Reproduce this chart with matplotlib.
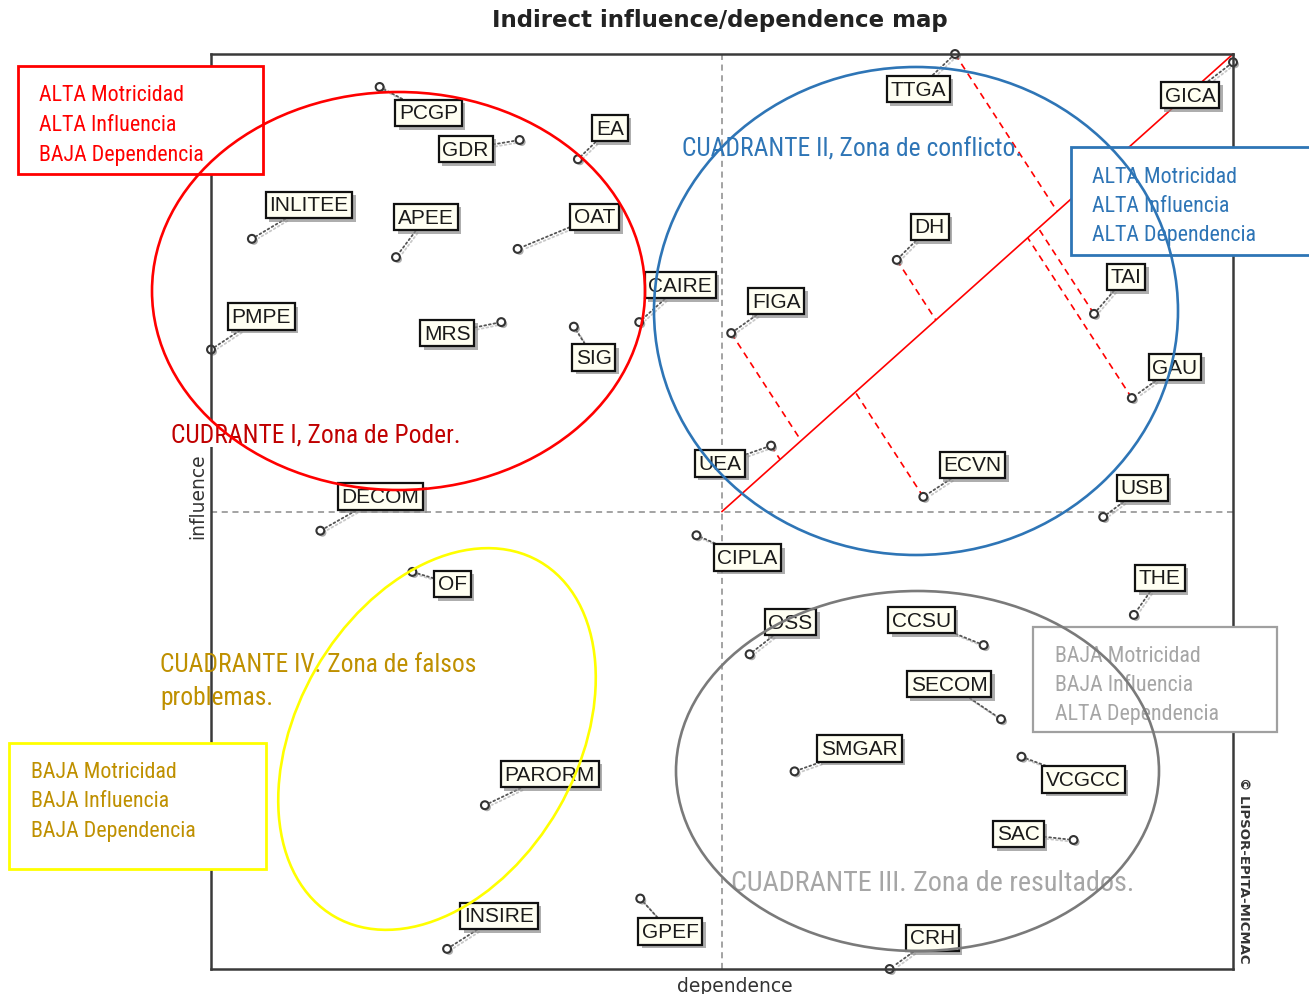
import matplotlib
matplotlib.use('Agg')
import matplotlib.pyplot as plt
from matplotlib.patches import Ellipse, Rectangle
import matplotlib.patheffects as pe
from matplotlib import font_manager as fm
import numpy as np

# ---------------- data ----------------
variables = ['PCGP', 'GDR', 'EA', 'INLITEE', 'APEE', 'OAT', 'CAIRE', 'PMPE', 'MRS', 'SIG',
             'DECOM', 'OF', 'PARORM', 'INSIRE', 'GPEF', 'CIPLA',
             'TTGA', 'GICA', 'DH', 'FIGA', 'TAI', 'GAU', 'UEA', 'ECVN', 'USB',
             'THE', 'OSS', 'CCSU', 'SECOM', 'SMGAR', 'VCGCC', 'SAC', 'CRH']
dependence = [16.5, 30.2, 35.9, 4.0, 18.1, 30.0, 41.9, 0.0, 28.4, 35.5,
              10.7, 19.7, 26.8, 23.1, 42.0, 47.5,
              72.8, 100.0, 67.1, 50.9, 86.4, 90.1, 54.8, 69.7, 87.3,
              90.3, 52.7, 75.6, 77.3, 57.1, 79.3, 84.4, 66.4]
influence = [96.4, 90.6, 88.5, 79.8, 77.8, 78.7, 70.7, 67.7, 70.7, 70.2,
             47.9, 43.4, 17.9, 2.2, 7.7, 47.4,
             100.0, 99.1, 77.5, 69.5, 71.6, 62.4, 57.2, 51.6, 49.4,
             38.7, 34.4, 35.4, 27.3, 21.6, 23.2, 14.1, 0.0]
perp_vars = ['TTGA', 'DH', 'FIGA', 'UEA', 'ECVN', 'TAI', 'GAU']

# label placement (pixels, right / up from the point)
label_offsets = {
    'PCGP': (49, -26), 'GDR': (-54, -9), 'EA': (32, 31), 'INLITEE': (57, 34),
    'APEE': (30, 40), 'OAT': (77, 32), 'CAIRE': (41, 37), 'PMPE': (50, 33),
    'MRS': (-54, -11), 'SIG': (20, -31), 'DECOM': (60, 34), 'OF': (40, -12),
    'PARORM': (65, 31), 'INSIRE': (52, 33), 'GPEF': (30, -33), 'CIPLA': (51, -22),
    'TTGA': (-37, -35), 'GICA': (-43, -33), 'DH': (33, 33), 'FIGA': (45, 32),
    'TAI': (32, 37), 'GAU': (43, 31), 'UEA': (-51, -18), 'ECVN': (49, 32),
    'USB': (39, 29), 'THE': (26, 37), 'OSS': (41, 32), 'CCSU': (-62, 25),
    'SECOM': (-52, 35), 'SMGAR': (65, 23), 'VCGCC': (62, -23), 'SAC': (-55, 6),
    'CRH': (43, 31),
}

# ---------------- fonts ----------------
names = {f.name for f in fm.fontManager.ttflist}
NARROW = 'Liberation Sans'
for cand in ['Liberation Sans Narrow', 'Arial Narrow', 'Roboto Condensed',
             'Noto Sans Condensed', 'Open Sans Condensed', 'DejaVu Sans Condensed']:
    if cand in names:
        NARROW = cand
        break

W, H = 1309, 995
fig = plt.figure(figsize=(W / 100, H / 100), dpi=100)
fig.patch.set_facecolor('white')
renderer = fig.canvas.get_renderer()


def fit_size(text, family, target_px, weight='normal'):
    t = fig.text(0, 0, text, fontsize=10, family=family, fontweight=weight)
    w = t.get_window_extent(renderer=renderer).width
    t.remove()
    return 10 * target_px / w


ax = fig.add_axes([211 / W, (H - 970) / H, 1022 / W, 915 / H])
ax.set_xlim(0, 100)
ax.set_ylim(0, 100)
ax.set_xticks([])
ax.set_yticks([])
for s in ax.spines.values():
    s.set_color('#3a3a3a')
    s.set_linewidth(1.8)
    s.set_zorder(6)
ax.axvline(50, color='#8a8a8a', ls=(0, (4, 3)), lw=1.1, zorder=1)
ax.axhline(50, color='#8a8a8a', ls=(0, (4, 3)), lw=1.1, zorder=1)

ax.set_xlabel('dependence', fontsize=13.5, color='#333333', labelpad=2,
              family='DejaVu Sans')
ax.set_ylabel('influence', fontsize=13.5, color='#333333', labelpad=4,
              family='DejaVu Sans')
ax.xaxis.set_label_coords(0.5127, -0.0075)
ax.yaxis.set_label_coords(-0.004, 0.518)

# diagonal and perpendicular projections
ax.plot([50, 100], [50, 100], color='#ff0000', lw=1.2, zorder=2, clip_on=False)
A = ax.transData.transform((50, 50))
B = ax.transData.transform((100, 100))
u = np.array([0.545, -0.839])
inv = ax.transData.inverted()
for name in perp_vars:
    i = variables.index(name)
    P = ax.transData.transform((dependence[i], influence[i]))
    M = np.column_stack([u, -(B - A)])
    t, s_ = np.linalg.solve(M, A - P)
    F = inv.transform(P + t * u)
    ax.plot([dependence[i], F[0]], [influence[i], F[1]], color='#ff0000',
            lw=1.2, ls=(0, (4, 3)), zorder=2)

# points
ax.scatter(dependence, influence, s=32, facecolors='white', edgecolors='#333333',
           linewidths=1.5, zorder=5, clip_on=False,
           path_effects=[pe.SimplePatchShadow(offset=(1.5, -1.5),
                                              shadow_rgbFace='#777777', alpha=0.6),
                         pe.Normal()])

for name, x, y in zip(variables, dependence, influence):
    dx, dy = label_offsets[name]
    ann = ax.annotate(name, xy=(x, y), xytext=(dx, dy), textcoords='offset pixels',
                      ha='center', va='center', fontsize=15, family='Liberation Sans',
                      color='#1a1a1a', zorder=4, annotation_clip=False,
                      bbox=dict(boxstyle='square,pad=0.18', fc='#fffff2', ec='#111111',
                                lw=1.6),
                      arrowprops=dict(arrowstyle='-', color='#555555', lw=1.3,
                                      linestyle=(0, (1, 1.6)), shrinkA=0, shrinkB=4))
    ann.get_bbox_patch().set_path_effects(
        [pe.SimplePatchShadow(offset=(2.5, -2.5), shadow_rgbFace='#8c8c8c', alpha=0.7),
         pe.Normal()])
    ann.arrow_patch.set_path_effects(
        [pe.SimpleLineShadow(offset=(1.5, -1.5), shadow_color='#bbbbbb', alpha=0.8),
         pe.Normal()])

# ---------------- overlay (pixel coordinates) ----------------
ov = fig.add_axes([0, 0, 1, 1], zorder=5)
ov.set_xlim(0, W)
ov.set_ylim(H, 0)
ov.axis('off')
ov.patch.set_visible(False)

ov.text(720, 21, 'Indirect influence/dependence map', ha='center', va='center',
        fontsize=16.5, fontweight='bold', color='#222222', family='DejaVu Sans')
ov.text(1244, 870, '© LIPSOR-EPITA-MICMAC', rotation=-90, ha='center', va='center',
        fontsize=9.5, fontweight='bold', color='#333333', family='DejaVu Sans')

box_fs = fit_size('ALTA Motricidad', NARROW, 145)
quad_fs = fit_size('CUADRANTE II, Zona de conflicto.', NARROW, 338)
quad3_fs = fit_size('CUADRANTE III. Zona de resultados.', NARROW, 401)

# info boxes
boxes = [
    ((18, 67, 245, 108), '#ff0000', 2.0, '#ff0000', 39, [101, 131, 161],
     ['ALTA Motricidad', 'ALTA Influencia', 'BAJA Dependencia']),
    ((1071, 148, 260, 108), '#2e75b6', 2.0, '#2e75b6', 1092, [183, 212, 241],
     ['ALTA Motricidad', 'ALTA Influencia', 'ALTA Dependencia']),
    ((1033, 628, 244, 105), '#a0a0a0', 1.6, '#a6a6a6', 1055, [662, 691, 720],
     ['BAJA Motricidad', 'BAJA Influencia', 'ALTA Dependencia']),
    ((9, 744, 257, 126), '#ffff00', 2.0, '#bf9000', 31, [778, 807, 837],
     ['BAJA Motricidad', 'BAJA Influencia', 'BAJA Dependencia']),
]
for (x0, y0, w, h), ec, lw, tc, tx, ys, lines in boxes:
    ov.add_patch(Rectangle((x0, y0), w, h, fc='white', ec=ec, lw=lw, zorder=1,
                           clip_on=False))
    for yy, line in zip(ys, lines):
        ov.text(tx, yy, line, ha='left', va='baseline', color=tc,
                fontsize=box_fs, family=NARROW, zorder=2)

# quadrant titles
ov.text(171, 442, 'CUDRANTE I, Zona de Poder.', ha='left', va='baseline',
        color='#c00000', fontsize=quad_fs, family=NARROW, zorder=2,
        bbox=dict(boxstyle='square,pad=0.05', fc='white', ec='none'))
ov.text(682, 157, 'CUADRANTE II, Zona de conflicto.', ha='left', va='baseline',
        color='#2e75b6', fontsize=quad_fs, family=NARROW, zorder=2)
ov.text(160, 672, 'CUADRANTE IV. Zona de falsos', ha='left', va='baseline',
        color='#bf9000', fontsize=quad_fs, family=NARROW, zorder=2)
ov.text(160, 705, 'problemas.', ha='left', va='baseline',
        color='#bf9000', fontsize=quad_fs, family=NARROW, zorder=2)
ov.text(731, 891, 'CUADRANTE III. Zona de resultados.', ha='left', va='baseline',
        color='#a6a6a6', fontsize=quad3_fs, family=NARROW, zorder=2)

# ellipses
ells = [
    ((398.5, 292), 493, 398, 0, '#ff0000'),
    ((916, 312), 524, 488, 0, '#2e75b6'),
    ((917.5, 772), 483, 360, 0, '#7a7a7a'),
    ((437, 740), 410, 280, -60, '#ffff00'),
]
for c, w, h, ang, col in ells:
    ov.add_patch(Ellipse(c, w, h, angle=ang, fc='none', ec=col, lw=1.9, zorder=3,
                         clip_on=False))

fig.savefig('out.png', dpi=100, facecolor='white')
